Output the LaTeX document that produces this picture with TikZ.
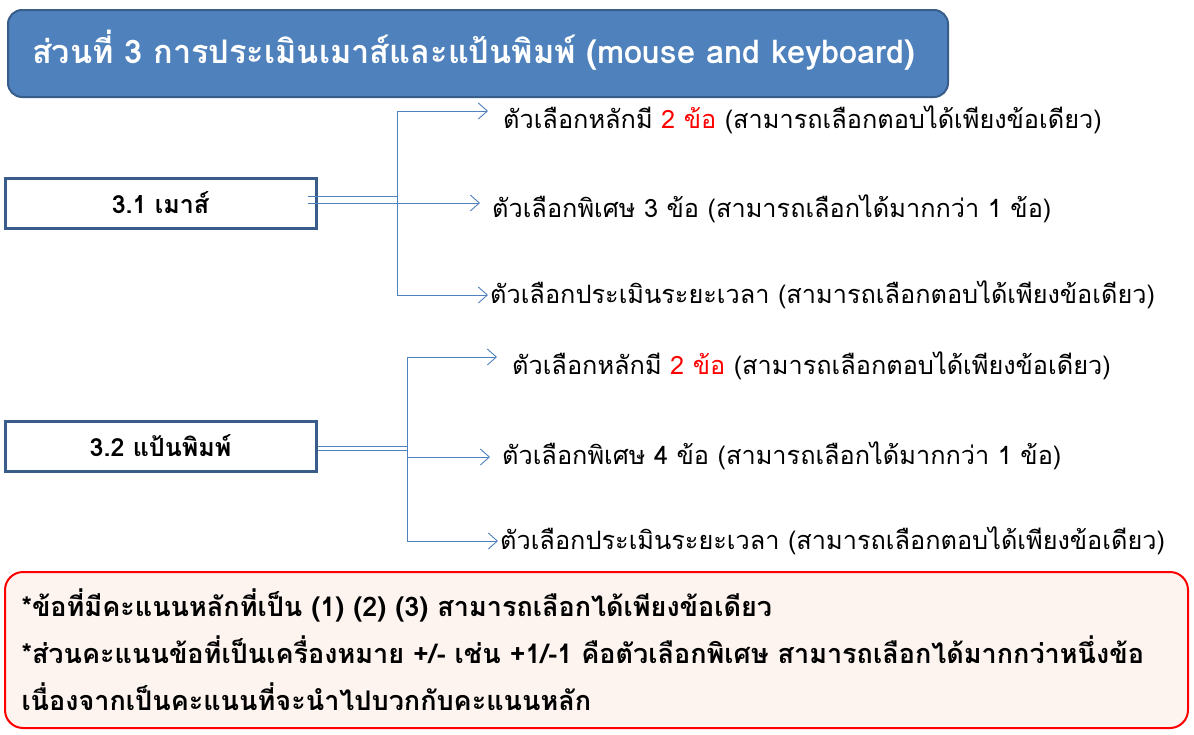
\documentclass[tikz,border=0pt]{standalone}
\usepackage{fontspec}
\setmainfont[Script=Thai]{Loma}
\usetikzlibrary{arrows.meta,
                positioning}
\definecolor{titleblue}{HTML}{4F81BD}
\definecolor{boxblue}{HTML}{385D8A}
\definecolor{noteback}{HTML}{FDF4EF}

\begin{document}
\begin{tikzpicture}[x=1pt, y=-1pt,
title/.style = {draw=boxblue, line width=2pt, fill=titleblue,
                rounded corners=14pt, text=white,
                minimum width=940pt, minimum height=87pt,
                text width=892pt, align=left,
                font=\bfseries\fontsize{32.5}{36}\selectfont},
part/.style  = {draw=boxblue, line width=3pt,
                minimum width=311pt, minimum height=50pt,
                font=\bfseries\fontsize{25}{29}\selectfont},
item/.style  = {anchor=west, inner sep=0pt,
                font=\fontsize{25.3}{30}\selectfont},
link/.style  = {draw=titleblue, line width=0.9pt},
arr/.style   = {link, -{Straight Barb[length=9pt,width=16pt]}},
note/.style  = {draw=red, line width=2pt, fill=noteback,
                rounded corners=18pt,
                minimum width=1183pt, minimum height=156pt,
                text width=1150pt, align=left,
                font=\bfseries\fontsize{27}{47}\selectfont}
                   ]
\useasboundingbox (0,0) rectangle (1194,734);

\node[title] (title) at (478,53.5)
    {ส่วนที่ 3 การประเมินเมาส์และแป้นพิมพ์ (mouse and keyboard)\par\vspace{7pt}};

% 3.1 mouse
\node[part] (mouse) at (160.5,203) {3.1 เมาส์};
\coordinate (m) at (397,196);
\node[item] (m1) at (503,120) {ตัวเลือกหลักมี \textcolor{red}{2 ข้อ} (สามารถเลือกตอบได้เพียงข้อเดียว)};
\node[item] (m2) at (492,209) {ตัวเลือกพิเศษ 3 ข้อ (สามารถเลือกได้มากกว่า 1 ข้อ)};
\node[item] (m3) at (490,295) {ตัวเลือกประเมินระยะเวลา (สามารถเลือกตอบได้เพียงข้อเดียว)};
\draw[link] ([xshift=-10pt]mouse.east |- m) -- (m);
\draw[link] ([xshift=-10pt,yshift=-7pt]mouse.east |- m) -- ([yshift=-7pt]m);
\draw[arr] (m) |- ([xshift=-15pt,yshift=9pt]m1.west);
\draw[arr] ([yshift=-7pt]m) -- ++(83,0);
\draw[arr] (m) |- ([xshift=-2pt]m3.west);

% 3.2 keyboard
\node[part] (keys) at (160.5,446) {3.2 แป้นพิมพ์};
\coordinate (k) at (407,446);
\node[item] (k1) at (512,366) {ตัวเลือกหลักมี \textcolor{red}{2 ข้อ} (สามารถเลือกตอบได้เพียงข้อเดียว)};
\node[item] (k2) at (502,456) {ตัวเลือกพิเศษ 4 ข้อ (สามารถเลือกได้มากกว่า 1 ข้อ)};
\node[item] (k3) at (500,541) {ตัวเลือกประเมินระยะเวลา (สามารถเลือกตอบได้เพียงข้อเดียว)};
\draw[link] (keys.east |- k) -- (k);
\draw[link] ([yshift=-4pt]keys.east |- k) -- ([yshift=-4pt]k);
\draw[arr] (k) |- ([xshift=-15pt,yshift=9pt]k1.west);
\draw[arr] (k) |- ([xshift=-12pt,yshift=-1pt]k2.west);
\draw[arr] (k) |- ([xshift=-2pt]k3.west);

\node[note] (note) at (596.5,650)
    {*ข้อที่มีคะแนนหลักที่เป็น (1) (2) (3) สามารถเลือกได้เพียงข้อเดียว\\{}%
     *ส่วนคะแนนข้อที่เป็นเครื่องหมาย +/- เช่น +1/-1 คือตัวเลือกพิเศษ สามารถเลือกได้มากกว่าหนึ่งข้อ\\{}%
     เนื่องจากเป็นคะแนนที่จะนำไปบวกกับคะแนนหลัก\par\vspace{14pt}};
\end{tikzpicture}
\end{document}
